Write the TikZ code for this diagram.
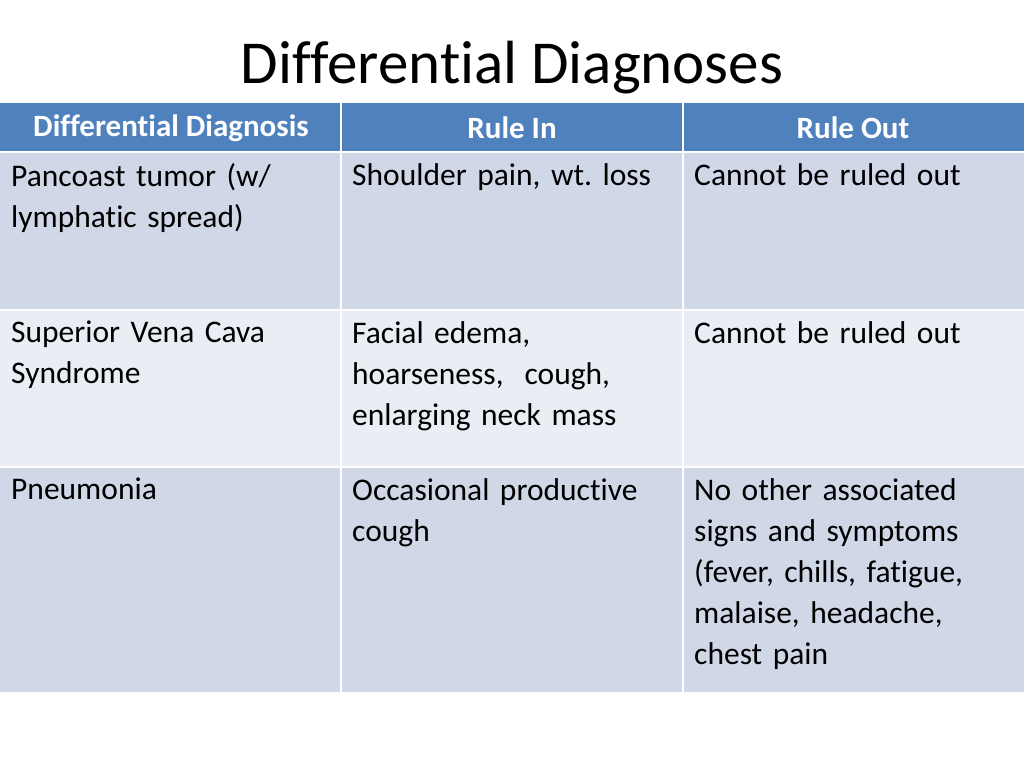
\documentclass[tikz,border=0pt]{standalone}
\usepackage{fontspec}
\setmainfont{Carlito}[RawFeature={-liga;-clig}]
\frenchspacing
\definecolor{hdr}{HTML}{4F81BD}
\definecolor{rowa}{HTML}{D0D8E8}
\definecolor{rowb}{HTML}{E9EDF4}
\begin{document}
\begin{tikzpicture}[x=1pt,y=-1pt,
  cell/.style={anchor=north west,align=left,text width=330pt,inner sep=0pt,font=\fontsize{31.5}{41}\selectfont},
  head/.style={text=white,font=\fontsize{31}{32}\selectfont\bfseries}]
\useasboundingbox (0,0) rectangle (1024,768);
\fill[white] (0,0) rectangle (1024,768);
\node (title) at (512,68) {\fontsize{61}{66}\selectfont Differential Diagnoses};
\fill[hdr] (0,103) rectangle (1024,152);
\fill[rowa] (0,152) rectangle (1024,310);
\fill[rowb] (0,310) rectangle (1024,467);
\fill[rowa] (0,467) rectangle (1024,692);
\draw[white,line width=2pt] (0,152)--(1024,152) (0,310)--(1024,310) (0,467)--(1024,467)
  (341,103)--(341,692) (683,103)--(683,692);
\node[head] (h1) at (171,128) {Differential Diagnosis};
\node[head] (h2) at (512,128) {Rule In};
\node[head] (h3) at (853,128) {Rule Out};
\node[cell] (a1) at (11,163) {Pancoast tumor (w/\\lymphatic spread)};
\node[cell] (b1) at (352,163) {Shoulder pain, wt. loss};
\node[cell] (c1) at (694,163) {Cannot be ruled out};
\node[cell] (a2) at (11,321) {Superior Vena Cava\\Syndrome};
\node[cell] (b2) at (352,321) {Facial edema,\\hoarseness,\ \ cough,\\enlarging neck mass};
\node[cell] (c2) at (694,321) {Cannot be ruled out};
\node[cell] (a3) at (11,478) {Pneumonia};
\node[cell] (b3) at (352,478) {Occasional productive\\cough};
\node[cell] (c3) at (694,478) {No other associated\\signs and symptoms\\(fever, chills, fatigue,\\malaise, headache,\\chest pain};
\end{tikzpicture}
\end{document}
